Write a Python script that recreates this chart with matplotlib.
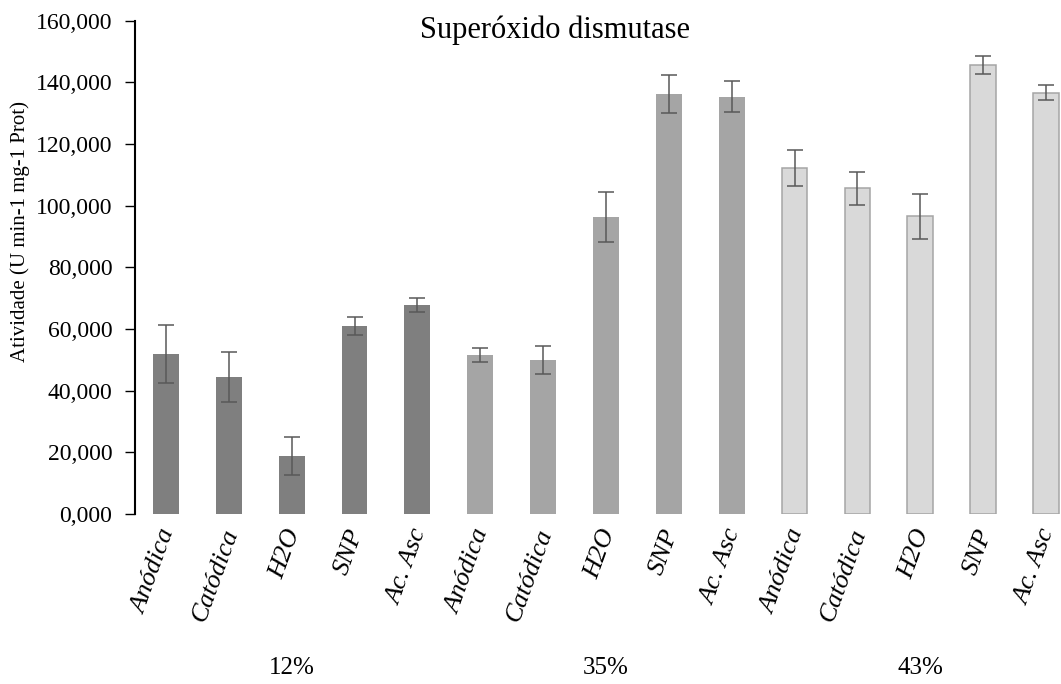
"""Superóxido dismutase bar chart, Excel-style grouped bars with error bars."""

import matplotlib
matplotlib.use("Agg")
import matplotlib.pyplot as plt
import matplotlib.transforms as mtransforms
from matplotlib.ticker import FuncFormatter

treatments = ["Anódica", "Catódica", "H2O", "SNP", "Ac. Asc"]
groups = ["12%", "35%", "43%"]

sod_12 = [51.9, 44.4, 18.8, 61.0, 67.8]
sod_35 = [51.6, 50.0, 96.3, 136.3, 135.3]
sod_43 = [112.1, 105.6, 96.5, 145.7, 136.7]

err_12 = [9.3, 8.2, 6.3, 2.9, 2.2]
err_35 = [2.2, 4.5, 8.2, 6.2, 5.0]
err_43 = [5.8, 5.4, 7.4, 3.0, 2.4]

plt.rcParams.update({
    "font.family": ["Liberation Serif", "DejaVu Serif"],
    "figure.facecolor": "white",
    "axes.facecolor": "white",
})

W, H = 1061, 684
fig = plt.figure(figsize=(W / 100, H / 100), dpi=100)
slot = 62.86
ax = fig.add_axes([134.5 / W, (H - 514) / H, 15 * slot / W, 493.3 / H])

styles = [
    dict(color="#7f7f7f", edgecolor="none", linewidth=0),
    dict(color="#a5a5a5", edgecolor="none", linewidth=0),
    dict(color="#d9d9d9", edgecolor="#a5a5a5", linewidth=1.1),
]

series = [(sod_12, err_12), (sod_35, err_35), (sod_43, err_43)]
labels = []
for g, ((vals, errs), st) in enumerate(zip(series, styles)):
    xs = [g * len(treatments) + i for i in range(len(treatments))]
    ax.bar(xs, vals, width=0.41, **st, zorder=2)
    ax.errorbar(xs, vals, yerr=errs, fmt="none", ecolor="#595959",
                elinewidth=1.1, capsize=5.8, capthick=1.1, zorder=3)
    labels += treatments

# category labels drawn as text so they can be nudged like Excel's
xtrans = ax.get_xaxis_transform() + mtransforms.ScaledTranslation(
    3 / 100, -16 / 100, fig.dpi_scale_trans)
for i, lab in enumerate(labels):
    ax.text(i, 0, lab, transform=xtrans, rotation=70, ha="right", va="center",
            rotation_mode="anchor", fontstyle="italic", fontsize=19, clip_on=False)

# group labels: data x, figure y
trans = mtransforms.blended_transform_factory(ax.transData, fig.transFigure)
for g, name in enumerate(groups):
    xc = g * len(treatments) + (len(treatments) - 1) / 2
    ax.text(xc, (H - 668) / H, name, transform=trans, ha="center", va="center",
            fontsize=18)

ax.set_xlim(-0.5, 14.5)
ax.set_ylim(0, 160)
ax.set_yticks(range(0, 161, 20))
ax.yaxis.set_major_formatter(FuncFormatter(lambda v, p: f"{v:.3f}".replace(".", ",")))
ax.set_xticks([])
ax.tick_params(axis="y", direction="out", length=7, width=1, labelsize=17, pad=9)

for side in ["top", "right", "bottom"]:
    ax.spines[side].set_visible(False)
ax.spines["left"].set_linewidth(1.5)

fig.text(20 / W, (H - 232) / H, "Atividade (U min-1 mg-1 Prot)", rotation=90,
         ha="center", va="center", fontsize=15)
fig.text(555 / W, (H - 30) / H, "Superóxido dismutase", ha="center", va="center",
         fontsize=22)

fig.savefig("out.png", dpi=100)
